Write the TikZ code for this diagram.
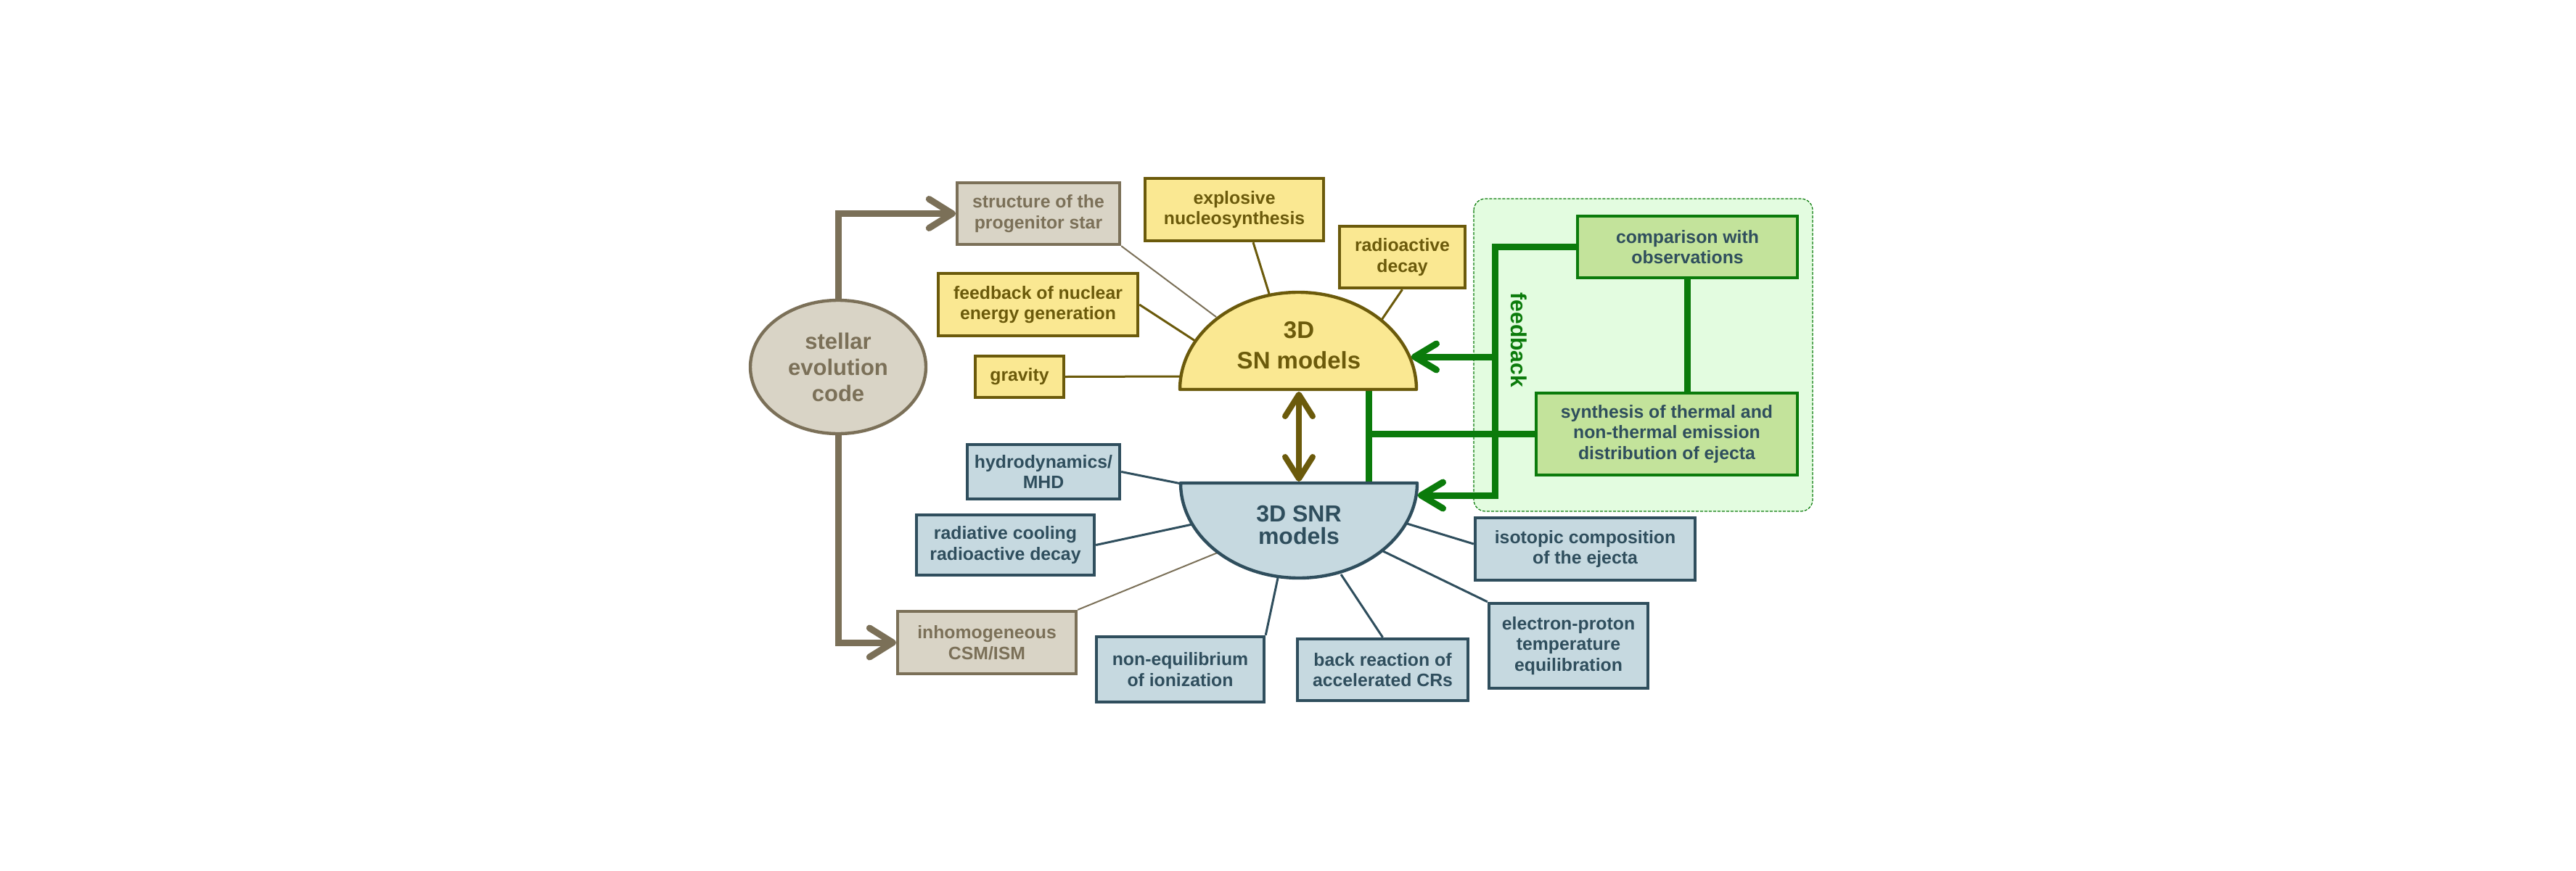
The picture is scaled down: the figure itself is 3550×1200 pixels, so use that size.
\documentclass[tikz,border=0pt]{standalone}
\usepackage{fontspec}
\setmainfont{Liberation Sans}
\usepackage{tikz}
\usetikzlibrary{arrows.meta}
\usetikzlibrary{shapes.geometric}

\definecolor{evoLine}{HTML}{7B7058}
\definecolor{evoFill}{HTML}{D9D4C6}
\definecolor{snLine}{HTML}{6B5A0B}
\definecolor{snFill}{HTML}{FAE892}
\definecolor{snrLine}{HTML}{2F4E5D}
\definecolor{snrFill}{HTML}{C6D9E0}
\definecolor{fbGreen}{HTML}{0B7B0B}
\definecolor{fbFill}{HTML}{C3E39B}
\definecolor{fbBack}{HTML}{E3FCE0}

\begin{document}
\begin{tikzpicture}[x=0.5pt,y=0.5pt,yscale=-1,xscale=1,
  box/.style={rectangle,line width=2.2pt,inner sep=0pt,align=center,font=\bfseries\fontsize{12.4}{14.3}\selectfont},
  evobox/.style={box,draw=evoLine,fill=evoFill,text=evoLine},
  snbox/.style={box,draw=snLine,fill=snFill,text=snLine},
  snrbox/.style={box,draw=snrLine,fill=snrFill,text=snrLine},
  fbbox/.style={box,draw=fbGreen,fill=fbFill,text=snrLine},
  evoarrow/.style={draw=evoLine,line width=4.5pt,-{Straight Barb[length=16pt,width=20pt,round]}},
  fbline/.style={draw=fbGreen,line width=4.5pt},
  fbarrow/.style={fbline,-{Straight Barb[length=15pt,width=18pt,round]}},
  snlink/.style={draw=snLine,line width=1.5pt},
  snrlink/.style={draw=snrLine,line width=1.5pt},
  evolink/.style={draw=evoLine,line width=1pt}]
\useasboundingbox (0,0) rectangle (3550,1200);

%Shape: Rounded Rect (feedback area)
\draw [draw=fbGreen,fill=fbBack,line width=0.6pt,dash pattern=on 2pt off 1pt,rounded corners=8pt] (2031,274) rectangle (2498,705);

%Shape: Ellipse
\node [ellipse,draw=evoLine,fill=evoFill,line width=2.2pt,minimum width=121pt,minimum height=92pt,inner sep=0pt,align=center,text=evoLine,font=\bfseries\fontsize{15.5}{18}\selectfont] (stellar) at (1155,506) {stellar\\evolution\\code};

% SN side boxes
\node [evobox,minimum width=112pt,minimum height=42.5pt] (progenitor) at (1431,294.5) {structure of the\\progenitor star};
\node [snbox,minimum width=123pt,minimum height=43pt] (explosive) at (1701,289) {explosive\\nucleosynthesis};
\node [snbox,minimum width=86.5pt,minimum height=42.5pt] (radioactive) at (1932.5,354.5) {radioactive\\decay};
\node [snbox,minimum width=137.5pt,minimum height=43pt] (nuclear) at (1430.5,420) {feedback of nuclear\\energy generation};
\node [snbox,minimum width=61pt,minimum height=28.5pt] (gravity) at (1405,519.5) {gravity};

% SNR side boxes
\node [snrbox,minimum width=105pt,minimum height=37.5pt] (hydro) at (1438,650.5) {hydrodynamics/\\MHD};
\node [snrbox,minimum width=122.5pt,minimum height=41.5pt] (cooling) at (1385.5,751.5) {radiative cooling\\radioactive decay};
\node [evobox,minimum width=123pt,minimum height=43pt] (medium) at (1360,886) {inhomogeneous\\CSM/ISM};
\node [snrbox,minimum width=115.5pt,minimum height=45pt] (ionization) at (1626.5,923) {non-equilibrium\\of ionization};
\node [snrbox,minimum width=117.5pt,minimum height=42.5pt] (backreact) at (1905.5,923.5) {back reaction of\\accelerated CRs};
\node [snrbox,minimum width=151.5pt,minimum height=43pt] (isotopic) at (2184.5,757) {isotopic composition\\of the ejecta};
\node [snrbox,minimum width=109.5pt,minimum height=58.5pt] (equil) at (2161.5,890.5) {electron-proton\\temperature\\equilibration};

% feedback boxes
\node [fbbox,minimum width=151.5pt,minimum height=42.5pt] (comparison) at (2325.5,340.5) {comparison with\\observations};
\node [fbbox,minimum width=180pt,minimum height=56.5pt] (synthesis) at (2297,598.5) {synthesis of thermal and\\non-thermal emission\\distribution of ejecta};

% ends on the model shapes
\coordinate (sn-a) at (1676,437);
\coordinate (sn-b) at (1749,405);
\coordinate (sn-c) at (1904,441);
\coordinate (sn-d) at (1647,470);
\coordinate (sn-e) at (1626,519);
\coordinate (sn-in) at (1945,492);
\coordinate (sn-bot) at (1790,540);
\coordinate (snr-a) at (1628,667);
\coordinate (snr-b) at (1643,723);
\coordinate (snr-c) at (1678,762);
\coordinate (snr-d) at (1761,797);
\coordinate (snr-e) at (1848,792);
\coordinate (snr-f) at (1939,722);
\coordinate (snr-g) at (1906,760);
\coordinate (snr-in) at (1954,683);
\coordinate (snr-top) at (1790,664);

%Straight Lines
\draw [evolink] (progenitor.south east) -- (sn-a);
\draw [snlink] ([xshift=13pt]explosive.south) -- (sn-b);
\draw [snlink] (radioactive.south) -- (sn-c);
\draw [snlink] (nuclear.east) -- (sn-d);
\draw [snlink] (gravity.east) -- (sn-e);
\draw [snrlink] (hydro.east) -- (snr-a);
\draw [snrlink] (cooling.east) -- (snr-b);
\draw [evolink] (medium.north east) -- (snr-c);
\draw [snrlink] (ionization.north east) -- (snr-d);
\draw [snrlink] (backreact.north) -- (snr-e);
\draw [snrlink] ([yshift=-3.5pt]isotopic.west) -- (snr-f);
\draw [snrlink] (equil.north west) -- (snr-g);

%Green Lines
\coordinate (fb-top) at (2060,340.5);
\coordinate (fb-mid) at (2060,492);
\coordinate (fb-bot) at (2060,683);
\coordinate (join) at (1886,598.5);
\draw [fbline] (comparison.south) -- (comparison.south |- synthesis.north);
\draw [fbline] (synthesis.west) -- (join);
\draw [fbline] (1886,537) -- (1886,666);

%Shape: Half Ellipse (SN)
\draw [draw=snLine,fill=snFill,line width=2.2pt,line join=round] (1626,537) arc[start angle=180,end angle=360,x radius=163,y radius=134] -- cycle;
%Shape: Half Ellipse (SNR)
\draw [draw=snrLine,fill=snrFill,line width=2.2pt,line join=round] (1627,666) arc[start angle=180,end angle=0,x radius=163,y radius=131] -- cycle;

% Text Node
\node [align=center,inner sep=0pt,text=snLine,font=\bfseries\fontsize{16.5}{21}\selectfont] (sn) at (1790,476) {3D\\SN models};
% Text Node
\node [align=center,inner sep=0pt,text=snrLine,font=\bfseries\fontsize{16}{15.5}\selectfont] (snr) at (1790,724) {3D SNR\\models};
% Text Node
\node [rotate=-90,inner sep=0pt,text=fbGreen,font=\bfseries\fontsize{15}{18}\selectfont] (fblabel) at (2093,469) {feedback};

%Arrows
\draw [evoarrow] (stellar.north) -- (progenitor.west -| stellar.north) -- (progenitor.west);
\draw [evoarrow] (stellar.south) -- (medium.west -| stellar.south) -- (medium.west);
\draw [draw=snLine,line width=4pt,{Straight Barb[length=15pt,width=19pt,round]}-{Straight Barb[length=15pt,width=19pt,round]}] (sn-bot) -- (snr-top);
\draw [fbarrow] (comparison.west) -- (fb-top) -- (fb-bot) -- (snr-in);
\draw [fbarrow] (fb-mid) -- (sn-in);

\end{tikzpicture}
\end{document}
